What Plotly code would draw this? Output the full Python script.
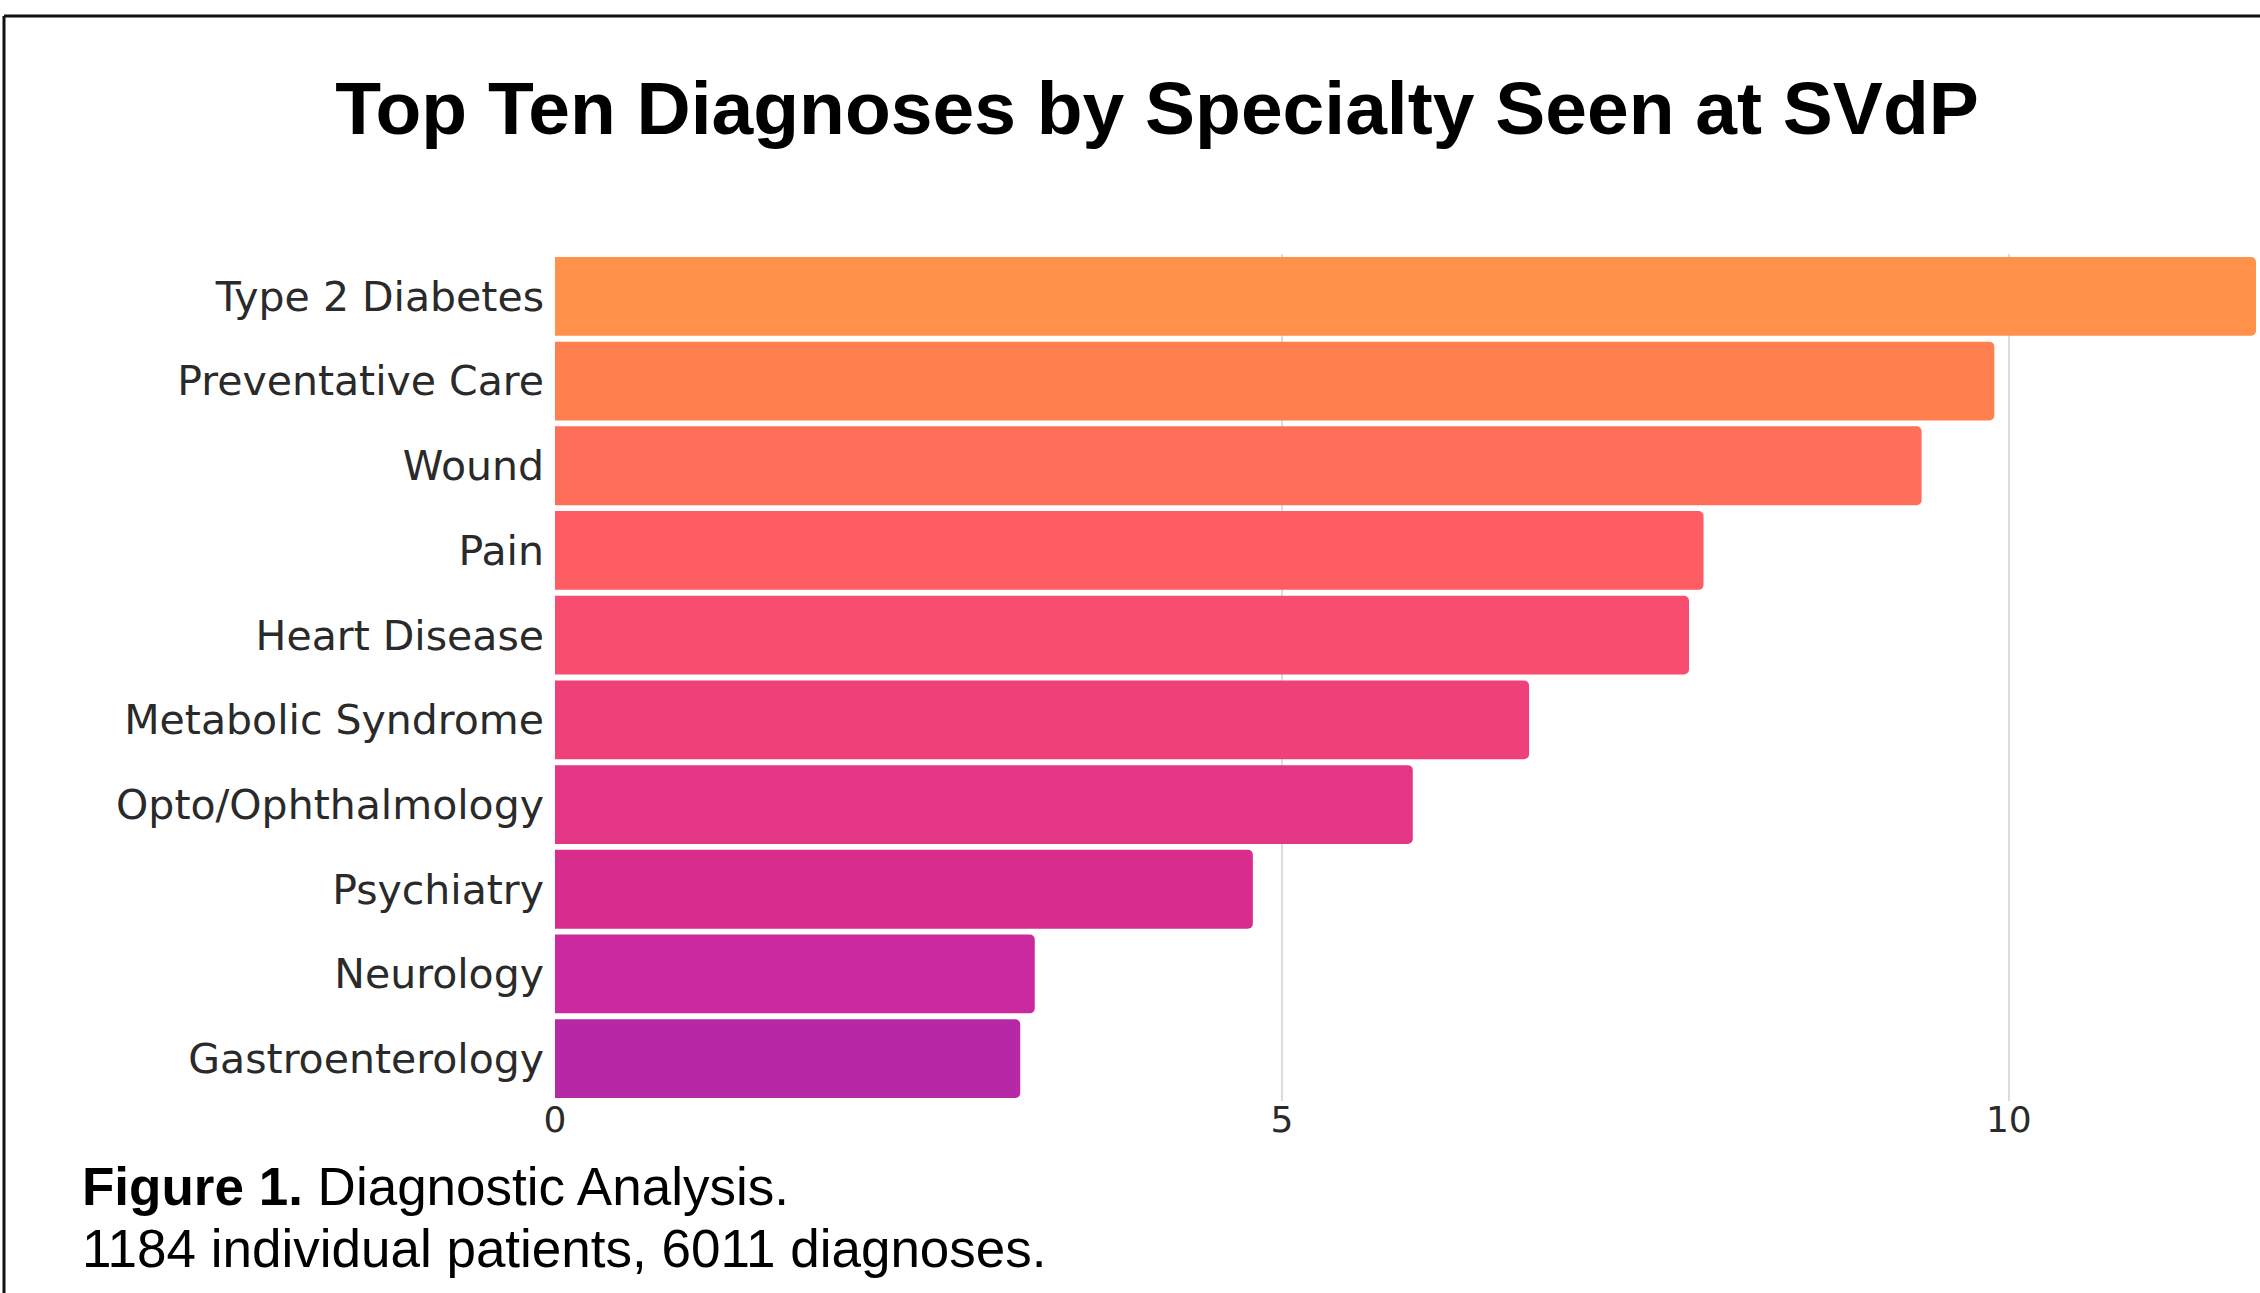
import plotly.graph_objects as go

# ---- data ----
categories = ["Type 2 Diabetes", "Preventative Care", "Wound", "Pain", "Heart Disease",
              "Metabolic Syndrome", "Opto/Ophthalmology", "Psychiatry", "Neurology",
              "Gastroenterology"]
values = [11.7, 9.9, 9.4, 7.9, 7.8, 6.7, 5.9, 4.8, 3.3, 3.2]
bar_colors = ["#FF914A", "#FF7F4F", "#FF6E59", "#FF5C63", "#F84D6E",
              "#EE4079", "#E43685", "#D92D8E", "#CA2A9D", "#B628A6"]
x_tickvals = [0, 5, 10]
x_ticktext = ["0", "5", "10"]

title_text = "Top Ten Diagnoses by Specialty Seen at SVdP"
caption1 = "<b>Figure 1.</b> Diagnostic Analysis."
caption2 = "1184 individual patients, 6011 diagnoses."

W, H = 2260, 1293
L, R, T, B = 555, 4, 254, 192
pw, ph = W - L - R, H - T - B


def px(x):
    return (x - L) / pw


def py(y):
    return 1 - (y - T) / ph


fig = go.Figure(go.Bar(
    x=values, y=categories, orientation="h",
    marker=dict(color=bar_colors, line=dict(width=0), cornerradius=5),
    hoverinfo="x+y",
))

fig.update_layout(
    width=W, height=H,
    margin=dict(l=L, r=R, t=T, b=B, autoexpand=False),
    paper_bgcolor="white", plot_bgcolor="white",
    showlegend=False,
    bargap=0.07,
    title=dict(text="<b>" + title_text + "</b>", x=1157 / W, xanchor="center",
               y=1 - 108 / H, yanchor="middle", yref="container",
               font=dict(family="Liberation Sans, Arial, sans-serif", size=75, color="black")),
    xaxis=dict(range=[0, max(values)], tickvals=x_tickvals, ticktext=x_ticktext,
               showgrid=True, gridcolor="#DCDCDC", gridwidth=2, zeroline=False,
               showline=False, ticks="", ticklabelstandoff=-6,
               tickfont=dict(family="DejaVu Sans", size=36, color="#2A2A2A")),
    yaxis=dict(categoryorder="array", categoryarray=categories, autorange="reversed",
               showgrid=False, zeroline=False, showline=False, ticks="",
               ticklabelstandoff=10,
               tickfont=dict(family="DejaVu Sans", size=41, color="#2A2A2A")),
    annotations=[
        dict(text=caption1, xref="paper", yref="paper", x=px(80), y=py(1186),
             xanchor="left", yanchor="middle", showarrow=False,
             font=dict(family="Liberation Sans, Arial, sans-serif", size=53, color="black")),
        dict(text=caption2, xref="paper", yref="paper", x=px(80), y=py(1248),
             xanchor="left", yanchor="middle", showarrow=False,
             font=dict(family="Liberation Sans, Arial, sans-serif", size=53, color="black")),
    ],
    shapes=[
        dict(type="line", xref="paper", yref="paper", x0=px(4), x1=px(2262), y0=py(16), y1=py(16),
             line=dict(color="#111111", width=3)),
        dict(type="line", xref="paper", yref="paper", x0=px(4), x1=px(4), y0=py(16), y1=py(1300),
             line=dict(color="#111111", width=3)),
    ],
)

fig.write_html("out.html")
